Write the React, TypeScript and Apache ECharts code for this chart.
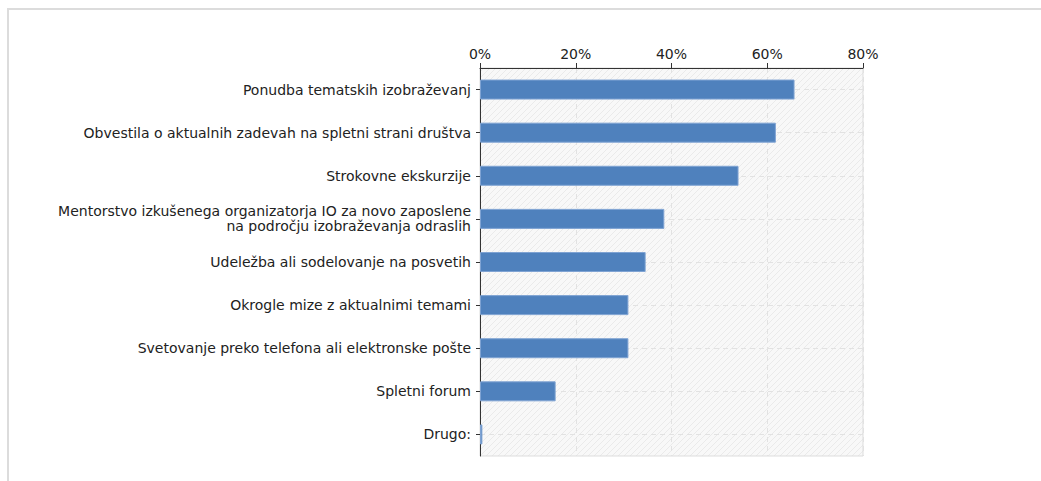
import React, { useEffect, useRef } from "react";
import * as echarts from "echarts";

const categories = [
  "Ponudba tematskih izobraževanj",
  "Obvestila o aktualnih zadevah na spletni strani društva",
  "Strokovne ekskurzije",
  "Mentorstvo izkušenega organizatorja IO za novo zaposlene\nna področju izobraževanja odraslih",
  "Udeležba ali sodelovanje na posvetih",
  "Okrogle mize z aktualnimi temami",
  "Svetovanje preko telefona ali elektronske pošte",
  "Spletni forum",
  "Drugo:",
];
const values = [65.7, 61.8, 54.0, 38.5, 34.6, 31.0, 31.0, 15.8, 0.5];
const xTicks = { min: 0, max: 80, interval: 20 };

const hatchSvg =
  "<svg xmlns='http://www.w3.org/2000/svg' width='6' height='6'>" +
  "<rect width='6' height='6' fill='#f8f8f8'/>" +
  "<path d='M0 6 L6 0 M-1 1 L1 -1 M5 7 L7 5' stroke='#eaeaea' stroke-width='1'/></svg>";
const hatchUrl = "data:image/svg+xml;charset=utf-8," + encodeURIComponent(hatchSvg);

export default function App() {
  const ref = useRef<HTMLDivElement>(null);
  useEffect(() => {
    if (!ref.current) return;
    const chart = echarts.init(ref.current, undefined, { renderer: "svg" });
    const font = "DejaVu Sans";
    const L = 480, T = 68, R = 178, B = 25;
    const plotH = 481 - T - B;
    const half = plotH / categories.length / 2;
    const dashed = { color: "#e2e2e2", type: [5, 4] as any, width: 1 };
    chart.setOption({
      animation: false,
      textStyle: { fontFamily: font },
      grid: [
        {
          left: L,
          top: T,
          right: R,
          bottom: B,
          show: true,
          borderColor: "#dddddd",
          borderWidth: 1,
          backgroundColor: {
            image: hatchUrl,
            repeat: "repeat",
            imageWidth: 6,
            imageHeight: 6,
          } as any,
        },
        {
          left: L,
          top: T + half,
          right: R,
          bottom: B + half,
          show: false,
        },
      ],
      xAxis: [
        {
          type: "value",
          gridIndex: 0,
          position: "top",
          min: xTicks.min,
          max: xTicks.max,
          interval: xTicks.interval,
          axisLine: { show: true, onZero: false, lineStyle: { color: "#333", width: 1 } },
          axisTick: { show: true, length: 5, lineStyle: { color: "#333" } },
          axisLabel: {
            formatter: "{value}%",
            color: "#222",
            fontSize: 14,
            fontFamily: font,
            margin: 7,
          },
          splitLine: { show: true, lineStyle: dashed },
        },
        {
          type: "value",
          gridIndex: 1,
          show: false,
          min: 0,
          max: 1,
        },
      ],
      yAxis: [
        {
          type: "category",
          gridIndex: 0,
          inverse: true,
          data: categories,
          axisLine: { show: true, onZero: false, lineStyle: { color: "#333", width: 1 } },
          axisTick: {
            show: true,
            alignWithLabel: true,
            length: 4,
            lineStyle: { color: "#333" },
          },
          axisLabel: {
            color: "#222",
            fontSize: 14,
            fontFamily: font,
            margin: 9,
            lineHeight: 15,
            align: "right",
          },
          splitLine: { show: false },
        },
        {
          type: "value",
          gridIndex: 1,
          min: 0,
          max: categories.length - 1,
          interval: 1,
          axisLine: { show: false },
          axisTick: { show: false },
          axisLabel: { show: false },
          splitLine: { show: true, lineStyle: dashed },
        },
      ],
      series: [
        {
          type: "bar",
          xAxisIndex: 0,
          yAxisIndex: 0,
          data: values,
          barWidth: 20,
          itemStyle: {
            color: "#4f81bd",
            borderColor: "#7fa3d3",
            borderWidth: 1,
          },
          z: 3,
        },
      ],
    });
    return () => chart.dispose();
  }, []);

  return (
    <div style={{ position: "fixed", left: 0, top: 0, width: 1041, height: 481, overflow: "hidden", background: "#fff" }}>
      <div
        style={{
          position: "absolute",
          left: 7,
          top: 8,
          width: 1034,
          height: 473,
          boxSizing: "border-box",
          borderTop: "2px solid #dcdcdc",
          borderLeft: "2px solid #dcdcdc",
        }}
      />
      <div ref={ref} style={{ position: "absolute", left: 0, top: 0, width: 1041, height: 481 }} />
    </div>
  );
}
